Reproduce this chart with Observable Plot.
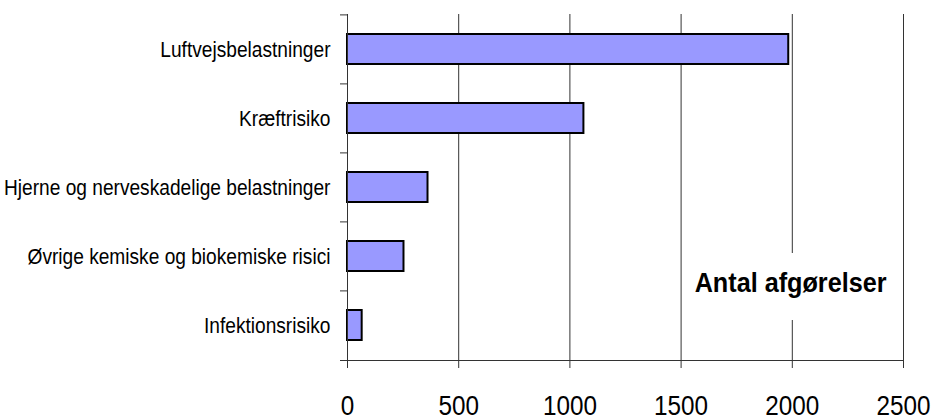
<!DOCTYPE html>
<html>
<head>
<meta charset="utf-8">
<script src="https://cdn.jsdelivr.net/npm/d3@7"></script>
<script src="https://cdn.jsdelivr.net/npm/@observablehq/plot@0.6"></script>
<style>
  html, body { margin: 0; padding: 0; background: #fff; }
  #wrap { position: relative; width: 932px; height: 419px; }
  #lbl {
    position: absolute; left: 686px; top: 253px; width: 210px; height: 67px;
    background: #fff; display: flex; align-items: center; justify-content: center;
    font-family: "Liberation Sans", Arial, sans-serif;
    font-weight: bold; font-size: 28px; color: #000; white-space: nowrap;
  }
  #lbl span { display: inline-block; transform: translateY(-4px) scaleX(0.9); }
</style>
</head>
<body>
<div id="wrap"></div>
<script>
const categories = [
  "Luftvejsbelastninger",
  "Kræftrisiko",
  "Hjerne og nerveskadelige belastninger",
  "Øvrige kemiske og biokemiske risici",
  "Infektionsrisiko"
];
const values = [1984, 1063, 362, 254, 66];
const xTicks = [0, 500, 1000, 1500, 2000, 2500];
const axisTitle = "Antal afgørelser";

const data = categories.map((c, i) => ({category: c, value: values[i]}));

const W = 932, H = 419, mT = 14, mB = 59, mL = 347, mR = 29;
const step = (H - mT - mB) / categories.length;
const font = '"Liberation Sans", Arial, sans-serif';

const chart = Plot.plot({
  width: W, height: H,
  marginTop: mT, marginBottom: mB, marginLeft: mL, marginRight: mR,
  style: {fontFamily: font, color: "#000", background: "#fff", overflow: "visible"},
  x: {domain: [0, 2500]},
  y: {domain: categories, paddingInner: 0.565, paddingOuter: 0.2825},
  marks: [
    Plot.ruleX(xTicks.slice(1), {stroke: "#333", strokeWidth: 1}),
    Plot.barX(data, {x: "value", y: "category", fill: "#9999ff", stroke: "#000", strokeWidth: 2}),
    Plot.frame({anchor: "left", stroke: "#333"}),
    Plot.frame({anchor: "bottom", stroke: "#333", insetLeft: -7}),
    Plot.ruleY(categories, {y: d => d, dy: -step / 2, x1: 0, x2: 0, insetLeft: -7, stroke: "#333"}),
    Plot.axisX({ticks: xTicks, tickSize: 8, tickPadding: 27, fontSize: 27, tickFormat: d => String(d), stroke: "#333", label: null, className: "xax"}),
    Plot.axisY({tickSize: 0, tickPadding: 17, fontSize: 22, label: null, className: "yax"})
  ]
});

// condense text horizontally (the reference uses a narrow face)
function condense(sel, k) {
  chart.querySelectorAll(sel).forEach(t => {
    const tr = t.getAttribute("transform") || "";
    const x = t.getAttribute("x");
    if (x != null) t.setAttribute("x", +x / k);
    t.setAttribute("transform", (tr + ` scale(${k},1)`).trim());
  });
}
condense(".xax text", 0.9);
condense(".yax text", 0.87);

const wrap = document.getElementById("wrap");
wrap.appendChild(chart);
const lbl = document.createElement("div");
lbl.id = "lbl";
const sp = document.createElement("span");
sp.textContent = axisTitle;
lbl.appendChild(sp);
wrap.appendChild(lbl);
</script>
</body>
</html>
